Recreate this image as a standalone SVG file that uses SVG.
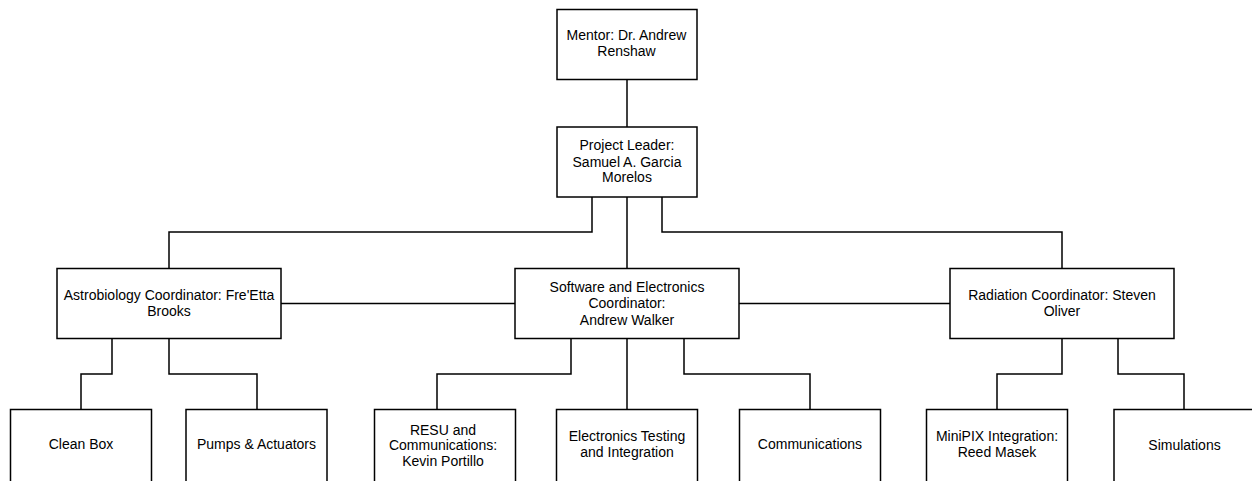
<svg xmlns="http://www.w3.org/2000/svg" width="1252" height="481" viewBox="0 0 1252 481">
<style>
.box{fill:#ffffff;stroke:#000000;stroke-width:1.5}
.conn{fill:none;stroke:#000000;stroke-width:1.5}
text{font-family:"Liberation Sans",Arial,Helvetica,sans-serif;font-size:14px;fill:#000000;text-anchor:middle}
</style>
<rect x="0" y="0" width="1252" height="481" fill="#ffffff"/>
<g id="connectors">
<path class="conn" d="M627,79.5 V127"/>
<path class="conn" d="M592,197 V232 H169 V268.5"/>
<path class="conn" d="M627,197 V268.5"/>
<path class="conn" d="M662,197 V232 H1062 V268.5"/>
<path class="conn" d="M281,303.5 H515"/>
<path class="conn" d="M739,303.5 H950"/>
<path class="conn" d="M112,338.5 V374 H81 V409.5"/>
<path class="conn" d="M169,338.5 V374 H257 V409.5"/>
<path class="conn" d="M571,338.5 V374 H437 V409.5"/>
<path class="conn" d="M627,338.5 V409.5"/>
<path class="conn" d="M684,338.5 V374 H810 V409.5"/>
<path class="conn" d="M1062,338.5 V374 H997 V409.5"/>
<path class="conn" d="M1118,338.5 V374 H1184 V409.5"/>
</g>
<g id="mentor">
<rect class="box" x="557" y="9.5" width="140" height="70"/>
<text x="626.5" y="40">Mentor: Dr. Andrew</text>
<text x="626.5" y="56">Renshaw</text>
</g>
<g id="leader">
<rect class="box" x="557" y="127" width="140" height="70"/>
<text x="627" y="150">Project Leader:</text>
<text x="627" y="166.5">Samuel A. Garcia</text>
<text x="627" y="182">Morelos</text>
</g>
<g id="astro">
<rect class="box" x="57" y="268.5" width="224" height="70"/>
<text x="169" y="300">Astrobiology Coordinator: Fre'Etta</text>
<text x="169" y="316">Brooks</text>
</g>
<g id="software">
<rect class="box" x="515" y="268.5" width="224" height="70"/>
<text x="627" y="291.5">Software and Electronics</text>
<text x="627" y="308">Coordinator:</text>
<text x="627" y="324.5">Andrew Walker</text>
</g>
<g id="radiation">
<rect class="box" x="950" y="268.5" width="224" height="70"/>
<text x="1062" y="299.5">Radiation Coordinator: Steven</text>
<text x="1062" y="316">Oliver</text>
</g>
<g id="cleanbox">
<rect class="box" x="10.5" y="409.5" width="141" height="80"/>
<text x="81" y="449">Clean Box</text>
</g>
<g id="pumps">
<rect class="box" x="186" y="409.5" width="141" height="80"/>
<text x="256.5" y="449">Pumps &amp; Actuators</text>
</g>
<g id="resu">
<rect class="box" x="374.5" y="409.5" width="141" height="80"/>
<text x="443" y="434.5">RESU and</text>
<text x="443" y="450">Communications:</text>
<text x="443" y="465.5">Kevin Portillo</text>
</g>
<g id="electronics">
<rect class="box" x="556.5" y="409.5" width="141" height="80"/>
<text x="627" y="441">Electronics Testing</text>
<text x="627" y="457">and Integration</text>
</g>
<g id="communications">
<rect class="box" x="739.5" y="409.5" width="141" height="80"/>
<text x="810" y="449">Communications</text>
</g>
<g id="minipix">
<rect class="box" x="926.5" y="409.5" width="141" height="80"/>
<text x="997" y="441">MiniPIX Integration:</text>
<text x="997" y="457">Reed Masek</text>
</g>
<g id="simulations">
<rect class="box" x="1114" y="409.5" width="141" height="80"/>
<text x="1184.5" y="449.5">Simulations</text>
</g>
</svg>
